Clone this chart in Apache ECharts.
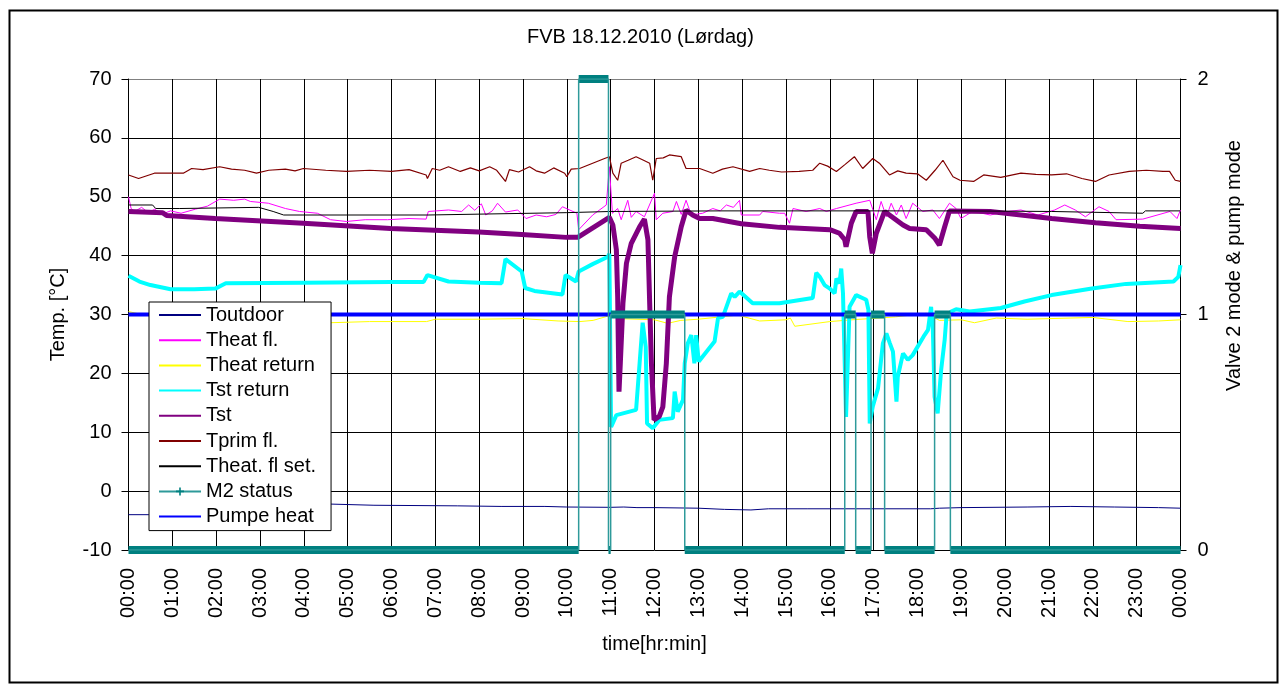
<!DOCTYPE html>
<html>
<head>
<meta charset="utf-8">
<script src="https://cdn.jsdelivr.net/npm/echarts@6/dist/echarts.min.js"></script>
<style>
html,body{margin:0;padding:0;background:#fff;}
#c{width:1280px;height:685px;}
</style>
</head>
<body>
<div id="c"></div>
<script>
// ---- tick labels (hours 0..24) ----
var tickLabels = ['00:00','01:00','02:00','03:00','04:00','05:00','06:00','07:00','08:00','09:00','10:00','11:00',
  '12:00','13:00','14:00','15:00','16:00','17:00','18:00','19:00','20:00','21:00','22:00','23:00','00:00'];

// ---- series data: [hour, value] ----
var toutdoor = [[0,-4.0],[0.45,-4.0],[1.5,-3.5],[3.0,-2.6],[4.6,-2.2],[5.6,-2.4],[7.5,-2.5],[8.5,-2.6],[9.5,-2.6],
  [10.0,-2.7],[11.0,-2.75],[11.3,-2.7],[11.6,-2.8],[12.0,-2.8],[13.0,-2.9],[13.6,-3.1],[14.2,-3.2],[14.6,-3.0],
  [15.5,-3.0],[17.0,-3.0],[18.3,-3.0],[18.5,-2.9],[19.0,-2.8],[20.5,-2.7],[21.5,-2.6],[22.5,-2.7],[23.5,-2.8],[24,-2.9]];

var theatFl = [[0,50.0],[0.06,48.0],[0.14,47.5],[0.3,48.2],[0.45,47.3],[0.6,47.9],[0.75,47.0],[0.96,47.6],[1.2,47.2],
  [1.53,47.9],[1.8,48.4],[2.08,49.6],[2.4,49.4],[2.65,49.6],[2.78,49.2],[3.19,48.9],[3.58,48.0],[3.9,47.5],[4.31,47.2],
  [4.61,46.1],[4.97,45.8],[5.4,46.1],[5.91,46.1],[6.4,46.3],[6.79,46.2],[6.84,47.5],[7.3,47.75],[7.6,47.5],[7.76,48.6],
  [7.9,47.7],[8.05,48.8],[8.15,46.9],[8.3,47.6],[8.42,48.9],[8.6,47.4],[8.88,47.75],[9.07,46.3],[9.3,46.9],[9.54,46.6],
  [9.75,47.0],[9.9,48.3],[10.23,47.2],[10.27,44.4],[10.59,46.9],[10.9,48.6],[10.97,55.1],[11.04,47.2],[11.16,48.0],
  [11.24,46.1],[11.39,49.4],[11.47,46.5],[11.58,47.5],[11.77,46.6],[12.0,50.6],[12.04,46.1],[12.19,47.2],[12.42,47.5],
  [12.5,49.2],[12.61,47.0],[12.72,49.4],[12.84,46.9],[13.1,47.2],[13.33,48.0],[13.5,47.6],[13.64,48.6],[13.8,48.2],
  [13.94,49.4],[13.98,46.9],[14.4,46.9],[14.47,47.5],[14.85,47.2],[14.97,47.2],[15.08,45.5],[15.16,48.0],[15.46,47.5],
  [15.77,48.0],[15.92,47.5],[16.15,48.0],[16.6,48.9],[16.91,49.4],[17.06,46.1],[17.17,49.2],[17.29,46.6],[17.4,48.9],
  [17.52,46.9],[17.63,48.6],[17.74,46.3],[17.89,48.9],[18.12,47.5],[18.35,47.75],[18.5,46.3],[18.73,48.9],[18.88,48.0],
  [18.99,46.3],[19.19,47.2],[19.28,47.5],[19.66,46.9],[20.05,47.5],[20.36,47.75],[20.75,46.9],[21.13,47.75],[21.36,48.6],
  [21.6,47.75],[21.83,46.6],[22.14,48.3],[22.37,47.5],[22.53,46.1],[23.14,46.2],[23.76,47.5],[23.92,46.3],[24,47.75]];

var theatReturn = [[0,30.5],[0.3,30.0],[1,29.3],[2,29.0],[4.6,28.6],[5.5,28.8],[6.8,28.8],[7.0,29.2],[8.0,29.2],[9.0,29.3],
  [9.8,28.9],[10.3,28.8],[10.6,29.0],[10.97,29.8],[11.2,29.3],[12.0,29.1],[12.3,28.5],[12.6,29.0],[13.0,29.2],[13.9,29.9],
  [14.4,28.9],[15.0,29.1],[15.1,29.4],[15.2,28.0],[16.0,28.8],[16.5,29.1],[17.5,29.6],[18.2,30.2],[18.5,29.0],[19.0,29.1],
  [19.3,28.6],[19.8,29.4],[20.5,29.2],[21.5,29.4],[22.0,29.5],[22.8,28.8],[23.5,28.9],[24,29.1]];

var tstReturn = [[0,36.6],[0.25,35.6],[0.5,35.0],[0.96,34.3],[1.5,34.3],[1.98,34.4],[2.22,35.3],[4.0,35.4],[6.0,35.5],
  [6.73,35.5],[6.82,36.7],[7.3,35.6],[8.0,35.4],[8.51,35.3],[8.6,39.4],[8.97,37.3],[9.05,34.5],[9.26,34.0],[9.9,33.4],
  [9.97,36.7],[10.21,35.6],[10.27,37.3],[10.6,38.6],[10.94,39.8],[10.97,40.3],[11.01,10.9],[11.13,12.9],[11.58,13.8],
  [11.66,21.7],[11.73,28.6],[11.8,24.5],[11.83,11.5],[11.96,10.7],[12.11,12.1],[12.42,12.4],[12.46,16.9],[12.53,13.5],
  [12.65,15.5],[12.69,21.7],[12.76,25.1],[12.84,26.5],[12.91,21.7],[12.95,26.5],[13.01,22.0],[13.37,25.4],[13.45,29.4],
  [13.56,29.6],[13.75,33.6],[13.83,33.0],[13.94,33.9],[14.24,31.9],[14.85,31.9],[15.61,32.8],[15.69,37.1],[15.77,36.4],
  [15.88,35.0],[16.0,34.4],[16.11,33.6],[16.15,36.1],[16.22,35.3],[16.26,37.8],[16.3,33.6],[16.34,21.7],[16.37,12.6],
  [16.41,22.0],[16.45,31.3],[16.6,33.3],[16.83,32.5],[16.88,30.8],[16.91,11.5],[16.98,14.4],[17.1,17.5],[17.21,25.1],
  [17.29,26.8],[17.37,25.1],[17.44,23.7],[17.52,15.2],[17.55,19.4],[17.67,23.4],[17.78,22.3],[17.89,23.1],[18.16,26.5],
  [18.24,27.4],[18.31,31.3],[18.35,27.4],[18.39,16.0],[18.46,13.2],[18.54,20.6],[18.62,25.7],[18.66,29.6],[18.77,30.5],
  [18.88,30.9],[19.19,30.5],[19.9,31.1],[20.44,32.2],[21.06,33.3],[21.98,34.4],[22.76,35.2],[23.84,35.6],[23.95,36.4],[24,38.4]];

var tst = [[0,47.5],[0.78,47.3],[0.87,46.8],[1.98,46.3],[3.99,45.5],[5.98,44.6],[7.99,44.0],[8.97,43.6],[9.99,43.1],
  [10.25,43.1],[10.97,46.5],[11.05,45.2],[11.13,41.0],[11.16,33.0],[11.19,16.9],[11.22,21.7],[11.28,31.9],[11.36,38.7],
  [11.47,42.1],[11.66,44.9],[11.77,46.2],[11.85,42.7],[11.89,31.9],[11.93,21.7],[11.99,12.1],[12.11,12.7],[12.19,14.3],
  [12.27,21.7],[12.34,33.0],[12.46,39.8],[12.61,44.9],[12.72,47.7],[12.87,46.9],[13.03,46.3],[13.33,46.3],[13.98,45.4],
  [14.85,44.8],[16.0,44.4],[16.22,43.8],[16.34,42.7],[16.37,41.5],[16.49,45.5],[16.6,47.5],[16.87,47.5],[16.91,43.2],
  [16.97,40.4],[17.06,43.8],[17.25,47.5],[17.36,46.9],[17.67,45.2],[17.82,44.6],[18.2,44.4],[18.39,43.0],[18.5,41.8],
  [18.62,44.9],[18.73,47.6],[19.66,47.5],[21.06,46.3],[22.06,45.6],[23.07,45.0],[24,44.6]];

var tprimFl = [[0,53.7],[0.23,53.1],[0.59,54.0],[1.25,54.0],[1.44,54.8],[1.7,54.6],[2.08,55.1],[2.35,54.7],[2.65,54.5],
  [2.92,54.0],[3.2,54.5],[3.58,54.7],[3.8,54.4],[3.99,54.8],[4.5,54.5],[4.97,54.3],[5.5,54.5],[6.0,54.3],[6.4,54.6],
  [6.79,53.7],[6.82,53.1],[6.93,54.8],[7.1,54.5],[7.3,55.1],[7.57,54.3],[7.8,54.9],[8.0,54.4],[8.24,55.1],[8.4,54.5],
  [8.6,52.6],[8.69,54.6],[8.9,54.2],[9.15,55.1],[9.3,54.4],[9.49,54.0],[9.7,54.9],[9.95,54.0],[10.0,53.4],[10.1,54.7],
  [10.29,54.8],[10.59,55.7],[10.86,56.5],[10.97,56.8],[11.05,54.0],[11.16,52.8],[11.24,55.7],[11.4,56.2],[11.58,56.8],
  [11.75,56.2],[11.89,55.7],[11.96,52.8],[12.04,56.5],[12.2,56.6],[12.34,57.1],[12.61,56.8],[12.72,54.8],[13.03,54.8],
  [13.33,54.0],[13.55,54.7],[13.79,55.1],[14.17,54.3],[14.4,54.8],[14.62,54.5],[14.9,54.2],[15.3,54.3],[15.61,54.5],
  [15.77,55.7],[15.95,55.2],[16.15,54.3],[16.35,55.5],[16.56,56.8],[16.75,54.8],[16.98,56.5],[17.13,55.7],[17.36,53.7],
  [17.55,54.4],[17.74,54.0],[18.0,53.9],[18.2,52.8],[18.4,54.5],[18.58,56.2],[18.81,53.4],[18.97,52.8],[19.28,52.6],
  [19.51,53.7],[19.9,53.3],[20.36,54.0],[20.7,53.8],[21.06,53.7],[21.4,53.9],[21.75,53.1],[22.06,52.6],[22.37,53.7],
  [22.83,54.3],[23.22,54.5],[23.6,54.3],[23.75,54.3],[23.88,52.8],[24,52.6]];

var theatFlSet = [[0,48.6],[0.55,48.6],[0.62,48.0],[1.17,48.0],[1.2,48.2],[2.97,48.2],[3.3,47.5],[3.54,46.9],[6.83,46.9],
  [6.86,47.2],[10.0,47.3],[11.0,47.5],[13.5,47.6],[15.0,47.6],[19.0,47.6],[21.06,47.5],[21.1,47.2],[23.14,47.2],[23.2,47.6],[24,47.6]];

// right axis (valve 2 mode & pump mode): value holds until next point
var m2Status = [[0,0],[10.27,2],[10.95,0],[11.0,1],[12.69,0],[16.34,1],[16.59,0],[16.94,1],[17.25,0],[18.39,1],[18.75,0],[24,0]];
var pumpeHeat = [[0,1],[24,1]];

// ---- build the dense-marker band of M2 status (horizontal runs) ----
var m2Band = [];
for (var i = 0; i < m2Status.length - 1; i++) {
  m2Band.push([m2Status[i][0], m2Status[i][1]]);
  m2Band.push([m2Status[i + 1][0], m2Status[i][1]]);
  m2Band.push([m2Status[i + 1][0], '-']);
}

var FONT = 'Liberation Sans, Arial, sans-serif';
var plus = 'path://M4,0H6V4H10V6H6V10H4V6H0V4H4Z';

function thin(name, data, color, width, yi) {
  return {
    name: name, type: 'line', data: data, yAxisIndex: yi || 0,
    symbol: 'none', showSymbol: false, silent: true,
    lineStyle: { color: color, width: width }, itemStyle: { color: color }
  };
}

var chart = echarts.init(document.getElementById('c'), null, { renderer: 'canvas' });
chart.setOption({
  animation: false,
  backgroundColor: '#fff',
  title: {
    text: 'FVB 18.12.2010 (Lørdag)', left: 527, top: 27, padding: 0,
    textStyle: { fontFamily: FONT, fontSize: 20, fontWeight: 'normal', color: '#000' }
  },
  graphic: [{
    type: 'rect', left: 7, top: 8, z: -1, silent: true,
    shape: { x: 0, y: 0, width: 1268, height: 672 },
    style: { fill: 'none', stroke: '#000', lineWidth: 2 }
  }],
  grid: { left: 128.5, right: 99.5, top: 79, bottom: 135, containLabel: false },
  legend: {
    orient: 'vertical', left: 149, top: 302,
    padding: [3, 15, 4, 9],
    itemWidth: 42, itemHeight: 10, itemGap: 5.2,
    backgroundColor: '#fff', borderColor: '#000', borderWidth: 1,
    selectedMode: false,
    itemStyle: { opacity: 0 },
    textStyle: { fontFamily: FONT, fontSize: 20, color: '#000' },
    data: ['Toutdoor', 'Theat fl.', 'Theat return', 'Tst return', 'Tst', 'Tprim fl.', 'Theat. fl set.',
      { name: 'M2 status', itemStyle: { opacity: 1 } }, 'Pumpe heat']
  },
  xAxis: {
    type: 'value', min: 0, max: 24, interval: 1,
    name: 'time[hr:min]', nameLocation: 'middle', nameGap: 84,
    nameTextStyle: { fontFamily: FONT, fontSize: 20, color: '#000' },
    axisLine: { lineStyle: { color: '#000', width: 1 } },
    axisTick: { show: true, length: 6, lineStyle: { color: '#000' } },
    axisLabel: {
      rotate: 90, margin: 18, fontFamily: FONT, fontSize: 20, color: '#000',
      formatter: function (v) { return tickLabels[Math.round(v)]; }
    },
    splitLine: { show: true, lineStyle: { color: '#000', width: 1 } }
  },
  yAxis: [{
    type: 'value', min: -10, max: 70, interval: 10, position: 'left',
    name: 'Temp. [°C]', nameLocation: 'middle', nameGap: 60, nameRotate: 90,
    nameTextStyle: { fontFamily: FONT, fontSize: 20, color: '#000' },
    axisLine: { show: true, lineStyle: { color: '#000', width: 1 } },
    axisTick: { show: true, length: 7, lineStyle: { color: '#000' } },
    axisLabel: { margin: 17, fontFamily: FONT, fontSize: 20, color: '#000' },
    splitLine: { show: true, lineStyle: { color: ['#000','#000','#000','#000','#000','#000','#000','#000','#808080'], width: 1 } }
  }, {
    type: 'value', min: 0, max: 2, interval: 1, position: 'right',
    name: 'Valve 2 mode & pump mode', nameLocation: 'middle', nameGap: 44, nameRotate: 90,
    nameTextStyle: { fontFamily: FONT, fontSize: 20, color: '#000', padding: [0, 0, 0, 98] },
    axisLine: { show: true, lineStyle: { color: '#000', width: 1 } },
    axisTick: { show: true, length: 6, lineStyle: { color: '#000' } },
    axisLabel: { margin: 17, fontFamily: FONT, fontSize: 20, color: '#000' },
    splitLine: { show: false }
  }],
  series: [
    thin('Toutdoor', toutdoor, '#000080', 1),
    thin('Theat fl.', theatFl, '#ff00ff', 1),
    thin('Theat return', theatReturn, '#ffff00', 1),
    thin('Tst return', tstReturn, '#00ffff', 4),
    thin('Tst', tst, '#800080', 5),
    thin('Tprim fl.', tprimFl, '#800000', 1.2),
    thin('Theat. fl set.', theatFlSet, '#000000', 1),
    thin('Pumpe heat', pumpeHeat, '#0000ff', 4, 1),
    {
      name: 'M2 band', type: 'line', yAxisIndex: 1, data: m2Band, symbol: 'none', showSymbol: false,
      connectNulls: false, silent: true,
      lineStyle: { color: '#008080', width: 8, cap: 'butt' }
    },
    {
      name: 'M2 status', type: 'line', yAxisIndex: 1, data: m2Status, step: 'end',
      symbol: plus, symbolSize: 8, showSymbol: false, silent: true,
      lineStyle: { color: '#2e9a9a', width: 1.5 }, itemStyle: { color: '#008080' }
    }
  ]
});
</script>
</body>
</html>
